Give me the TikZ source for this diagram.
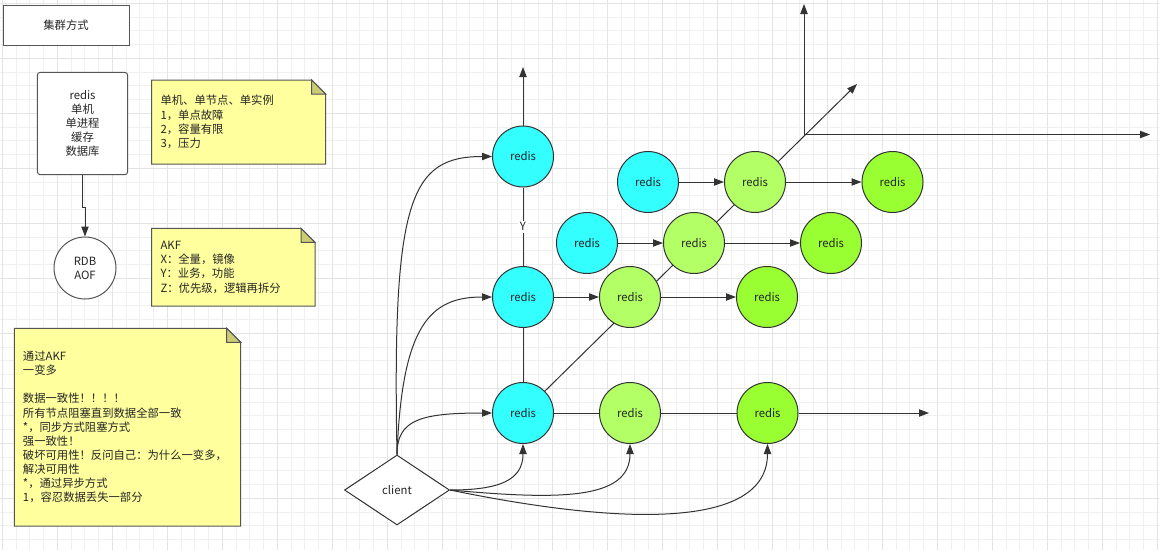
\documentclass[tikz,border=0pt]{standalone}
\usepackage{fontspec}
\setmainfont{Noto Sans CJK SC}
\usetikzlibrary{shapes.geometric,arrows.meta}
\definecolor{cyanfill}{HTML}{33FFFF}
\definecolor{lgfill}{HTML}{B3FF66}
\definecolor{gfill}{HTML}{99FF33}
\definecolor{notefill}{HTML}{FFFF9E}
\definecolor{foldfill}{HTML}{CCCC77}
\definecolor{stroke}{HTML}{333333}
\definecolor{boxstroke}{HTML}{555555}
\definecolor{gridminor}{HTML}{F0F0F0}
\definecolor{gridmajor}{HTML}{E4E4E4}
\definecolor{txt}{HTML}{262626}
\pgfdeclarelayer{gridlayer}
\pgfdeclarelayer{bg}
\pgfsetlayers{gridlayer,bg,main}
\newcommand{\stickynote}[4]{%
  \filldraw[fill=notefill, draw=boxstroke, line width=0.75pt] (#1,#2) -- ({#3-14},#2) -- (#3,{#2+14}) -- (#3,#4) -- (#1,#4) -- cycle;
  \filldraw[fill=foldfill, draw=boxstroke, line width=0.75pt] ({#3-14},#2) -- ({#3-14},{#2+14}) -- (#3,{#2+14}) -- cycle;
}
\begin{document}
\begin{tikzpicture}[x=0.75pt,y=-0.75pt,
  every node/.style={font=\fontsize{8.5pt}{10.6pt}\selectfont, text=txt},
  rnode/.style={circle, draw=stroke, line width=0.75pt, minimum size=45.75pt, inner sep=0pt},
  cy/.style={rnode, fill=cyanfill},
  lg/.style={rnode, fill=lgfill},
  gr/.style={rnode, fill=gfill},
  conn/.style={draw=stroke, line width=0.75pt},
  arr/.style={conn, -{Triangle[length=7.5pt,width=5.5pt]}},
  notetext/.style={anchor=west, align=left, inner sep=0pt},
  minorgrid/.style={draw=gridminor, line width=0.75pt},
  majorgrid/.style={draw=gridmajor, line width=0.9pt},
  plainbox/.style={draw=boxstroke, fill=white, line width=0.75pt, inner sep=0pt},
]
\useasboundingbox (0,0) rectangle (1159,550);

% notes
\stickynote{151.7}{80}{325.7}{164}
\stickynote{151.7}{228.3}{315}{306}
\stickynote{14.3}{328.3}{240.7}{526}
\node[notetext] (n1) at (160.3,122) {单机、单节点、单实例\\1，单点故障\\2，容量有限\\3，压力};
\node[notetext] (n2) at (160.3,267.3) {AKF\\X：全量，镜像\\Y：业务，功能\\Z：优先级，逻辑再拆分};
\node[notetext] (n3) at (22.7,427) {通过AKF\\一变多\\[10.6pt]数据一致性！！！！\\所有节点阻塞直到数据全部一致\\*，同步方式阻塞方式\\强一致性！\\破坏可用性！反问自己：为什么一变多，\\解决可用性\\*，通过异步方式\\1，容忍数据丢失一部分};

% left boxes
\node[plainbox, minimum width=94.5pt, minimum height=30pt] (title) at (66,25) {集群方式};
\node[plainbox, rounded corners=2.25pt, minimum width=67.8pt, minimum height=76.8pt, align=center] (rbox) at (82.5,123.5) {redis\\单机\\单进程\\缓存\\数据库};
\node[plainbox, circle, minimum size=46.5pt, align=center] (rdb) at (85,268) {RDB\\AOF};
\draw[arr] (rbox.south) -- ++(0,32.5) -| (rdb.north);

% redis nodes
\node[cy] (c1) at (523,156.5) {redis};
\node[cy] (c2) at (523,297) {redis};
\node[cy] (c3) at (523,413) {redis};
\node[lg] (b2) at (630,413) {redis};
\node[gr] (b3) at (767.5,413) {redis};
\node[lg] (g1a) at (630,297) {redis};
\node[gr] (g1b) at (767,297) {redis};
\node[cy] (cy2) at (587,243) {redis};
\node[lg] (g2a) at (694,243) {redis};
\node[gr] (g2b) at (831,243) {redis};
\node[cy] (cy3) at (648,182) {redis};
\node[lg] (g3a) at (755,182) {redis};
\node[gr] (g3b) at (892.5,182) {redis};
\node[plainbox, draw=stroke, diamond, minimum width=78.75pt, minimum height=52.5pt] (client) at (397,490) {client};

% free ends
\coordinate (topend) at (523,67);
\coordinate (rightend) at (929,413);
\coordinate (diagend) at (857,84);
\coordinate (axo) at (804,134.5);
\coordinate (axup) at (804,4);
\coordinate (axright) at (1150,134.5);

\begin{pgfonlayer}{gridlayer}
  \fill[white] (0,0) rectangle (1159,550);
  \foreach \i in {0,...,84} \draw[minorgrid] ({2.3+13.75*\i},0) -- ({2.3+13.75*\i},550);
  \foreach \j in {0,...,39} \draw[minorgrid] (0,{3.3+13.75*\j}) -- (1159,{3.3+13.75*\j});
  \foreach \i in {0,...,21} \draw[majorgrid] ({2.3+55*\i},0) -- ({2.3+55*\i},550);
  \foreach \j in {0,...,9} \draw[majorgrid] (0,{3.3+55*\j}) -- (1159,{3.3+55*\j});
\end{pgfonlayer}

\begin{pgfonlayer}{bg}
  \draw[arr] (c3.45) -- (diagend);
\end{pgfonlayer}

% axes
\draw[arr] (axo) -- (axup);
\draw[arr] (axo) -- (axright);

% vertical and rows
\draw[arr] (c1.north) -- (topend);
\draw[conn] (c1.south) -- node[fill=white, inner sep=1.5pt] (ylab) {Y} (c2.north);
\draw[conn] (c2.south) -- (c3.north);
\draw[conn] (c3.east) -- (b2.west);
\draw[conn] (b2.east) -- (b3.west);
\draw[arr] (b3.east) -- (rightend);
\draw[arr] (c2.east) -- (g1a.west);
\draw[arr] (g1a.east) -- (g1b.west);
\draw[arr] (cy2.east) -- (g2a.west);
\draw[arr] (g2a.east) -- (g2b.west);
\draw[arr] (cy3.east) -- (g3a.west);
\draw[arr] (g3a.east) -- (g3b.west);

% client edges
\draw[arr] (client.north) .. controls (392,200) and (410,156.5) .. (c1.west);
\draw[arr] (client.north) .. controls (402,325) and (430,297) .. (c2.west);
\draw[arr] (client.north) .. controls (397,420) and (420,413) .. (c3.west);
\draw[arr] (client.east) .. controls (500,490) and (523,480) .. (c3.south);
\draw[arr] (client.east) .. controls (560,500) and (630,500) .. (b2.south);
\draw[arr] (client.east) .. controls (620,525) and (767.5,530) .. (b3.south);
\end{tikzpicture}
\end{document}
